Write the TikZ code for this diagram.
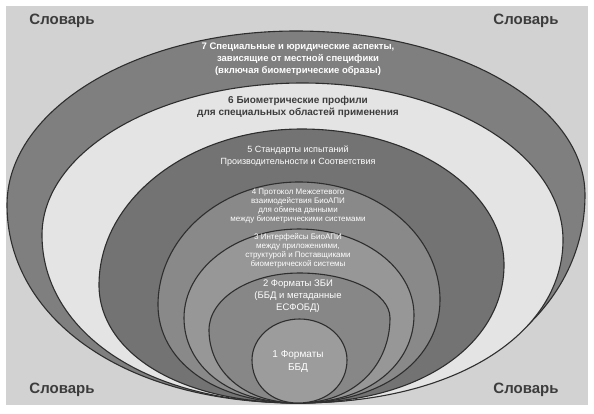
\documentclass[tikz,border=0pt]{standalone}
\usepackage{fontspec}
\setmainfont{Liberation Sans}
\usetikzlibrary{positioning}

\definecolor{bggray}{HTML}{D2D2D2}
\definecolor{edgegray}{HTML}{2E2E2E}
\definecolor{ringseven}{HTML}{7F7F7F}
\definecolor{ringsix}{HTML}{E4E4E4}
\definecolor{ringfive}{HTML}{737373}
\definecolor{ringfour}{HTML}{898989}
\definecolor{ringthree}{HTML}{979797}
\definecolor{ringtwo}{HTML}{878787}
\definecolor{ringone}{HTML}{9C9C9C}
\definecolor{darktext}{HTML}{3C3C3C}

% egg: fill, left x, left y, top y, right x, right y (tip at 298,403)
\newcommand{\layeregg}[6]{%
  \filldraw [layer, fill=#1] (298, 403)
    .. controls ({298-0.62*(298-#2)}, 403) and (#2, {#3+0.55*(403-#3)}) .. (#2, #3)
    .. controls (#2, {#3-0.552*(#3-#4)}) and ({(#2+#5)/2-0.552*((#5-#2)/2)}, #4) .. ({(#2+#5)/2}, #4)
    .. controls ({(#2+#5)/2+0.552*((#5-#2)/2)}, #4) and (#5, {#6-0.552*(#6-#4)}) .. (#5, #6)
    .. controls (#5, {#6+0.55*(403-#6)}) and ({298+0.62*(#5-298)}, 403) .. (298, 403);
}

\begin{document}
\begin{tikzpicture}[x=1pt, y=-1pt,
    layer/.style={draw=edgegray, line width=1.1pt},
    vocab/.style={font=\fontsize{15}{18}\selectfont\bfseries, text=darktext},
    ringtext/.style={align=center, text=white, inner sep=0pt}]
  \useasboundingbox (0, 0) rectangle (594, 413);

  % Background
  \fill [bggray] (6, 6) rectangle (588, 405);

  % Layers, outer to inner
  \layeregg{ringseven}{7}{205}{31}{585}{195}
  \layeregg{ringsix}{42}{235}{83}{563}{240}
  \layeregg{ringfive}{99}{285}{129}{504}{265}
  \layeregg{ringfour}{158}{305}{182}{440}{300}
  \layeregg{ringthree}{184}{318}{229}{414}{315}
  \layeregg{ringtwo}{209}{330}{273}{390}{318}
  \layeregg{ringone}{252}{360}{319}{347}{360}

  % Corner labels
  \node [vocab] (vocabNW) at (62, 21) {Словарь};
  \node [vocab] (vocabNE) at (526, 21) {Словарь};
  \node [vocab] (vocabSW) at (62, 390) {Словарь};
  \node [vocab] (vocabSE) at (526, 390) {Словарь};

  % Layer labels
  \node [ringtext, font=\fontsize{9.5}{12}\selectfont\bfseries] (legal) at (298, 59)
        {7 Специальные и юридические аспекты,\\зависящие от местной специфики\\(включая биометрические образы)};
  \node [ringtext, text=darktext, font=\fontsize{10}{12}\selectfont\bfseries] (profiles) at (298, 107)
        {6 Биометрические профили\\для специальных областей применения};
  \node [ringtext, font=\fontsize{9}{11.5}\selectfont] (testing) at (298, 156)
        {5 Стандарты испытаний\\Производительности и Соответствия};
  \node [ringtext, font=\fontsize{8}{9}\selectfont] (interwork) at (298, 206)
        {4 Протокол Межсетевого\\взаимодействия БиоАПИ\\для обмена данными\\между биометрическими системами};
  \node [ringtext, font=\fontsize{8}{9}\selectfont] (interfaces) at (298, 251)
        {3 Интерфейсы БиоАПИ\\между приложениями,\\структурой и Поставщиками\\биометрической системы};
  \node [ringtext, font=\fontsize{9.5}{12}\selectfont] (dataformats) at (298, 296)
        {2 Форматы ЗБИ\\(ББД и метаданные\\ЕСФОБД)};
  \node [ringtext, font=\fontsize{10}{13}\selectfont] (bdbformats) at (298, 362)
        {1 Форматы\\ББД};
\end{tikzpicture}
\end{document}
